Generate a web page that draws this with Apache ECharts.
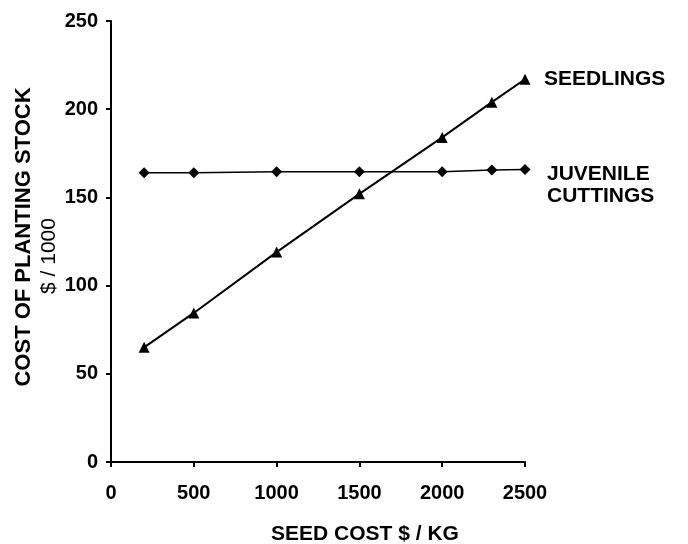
<!DOCTYPE html>
<html><head><meta charset="utf-8">
<script src="https://cdn.jsdelivr.net/npm/echarts@6/dist/echarts.min.js"></script>
<style>html,body{margin:0;padding:0;background:#fff}#c{width:688px;height:544px}</style>
</head><body><div id="c"></div>
<script>
const seedCost = [200, 500, 1000, 1500, 2000, 2300, 2500];
const seedlings = [65, 84.5, 119, 152, 184, 204, 217];
const juvenileCuttings = [164, 164, 164.5, 164.5, 164.5, 165.5, 165.8];
const xTicks = [0, 500, 1000, 1500, 2000, 2500];
const yTicks = [0, 50, 100, 150, 200, 250];

const chart = echarts.init(document.getElementById('c'), null, {renderer: 'canvas'});
const tickFont = {color: '#000', fontFamily: 'Liberation Sans, Arial, sans-serif', fontWeight: 'bold', fontSize: 20,
  formatter: v => String(v)};
const labelFont = {color: '#000', fontFamily: 'Liberation Sans, Arial, sans-serif', fontWeight: 'bold', fontSize: 21};
chart.setOption({
  backgroundColor: '#fff',
  animation: false,
  grid: {left: 111, right: 163, top: 21, bottom: 82},
  xAxis: {
    type: 'value', min: xTicks[0], max: xTicks[xTicks.length-1], interval: 500,
    axisLine: {lineStyle: {color: '#000', width: 2}},
    axisTick: {show: true, length: 5, lineStyle: {color: '#000', width: 2}},
    axisLabel: Object.assign({margin: 21}, tickFont),
    splitLine: {show: false}
  },
  yAxis: {
    type: 'value', min: yTicks[0], max: yTicks[yTicks.length-1], interval: 50,
    axisLine: {show: true, lineStyle: {color: '#000', width: 2}},
    axisTick: {show: true, length: 5, lineStyle: {color: '#000', width: 2}},
    axisLabel: Object.assign({margin: 13}, tickFont),
    splitLine: {show: false}
  },
  series: [
    {
      name: 'SEEDLINGS', type: 'line',
      data: seedCost.map((x, i) => [x, seedlings[i]]),
      symbol: 'triangle', symbolSize: 11,
      itemStyle: {color: '#000'},
      lineStyle: {color: '#000', width: 2},
      endLabel: Object.assign({show: true, formatter: 'SEEDLINGS', distance: 19}, labelFont)
    },
    {
      name: 'JUVENILE CUTTINGS', type: 'line',
      data: seedCost.map((x, i) => [x, juvenileCuttings[i]]),
      symbol: 'diamond', symbolSize: 11,
      itemStyle: {color: '#000'},
      lineStyle: {color: '#000', width: 1.5},
      endLabel: Object.assign({show: true, formatter: 'JUVENILE\nCUTTINGS', distance: 22, offset: [0, 16],
        align: 'left', lineHeight: 22}, labelFont)
    }
  ],
  graphic: [
    {type: 'text', x: 365, y: 534, style: {text: 'SEED COST $ / KG', fill: '#000', align: 'center', verticalAlign: 'middle',
      font: 'bold 21px "Liberation Sans", Arial, sans-serif'}},
    {type: 'text', x: 24, y: 237, rotation: Math.PI/2, style: {text: 'COST OF PLANTING STOCK', fill: '#000', align: 'center', verticalAlign: 'middle',
      font: 'bold 22px "Liberation Sans", Arial, sans-serif'}},
    {type: 'text', x: 49, y: 256, rotation: Math.PI/2, style: {text: '$ / 1000', fill: '#000', align: 'center', verticalAlign: 'middle',
      font: '21px "Liberation Sans", Arial, sans-serif'}}
  ]
});
</script></body></html>
